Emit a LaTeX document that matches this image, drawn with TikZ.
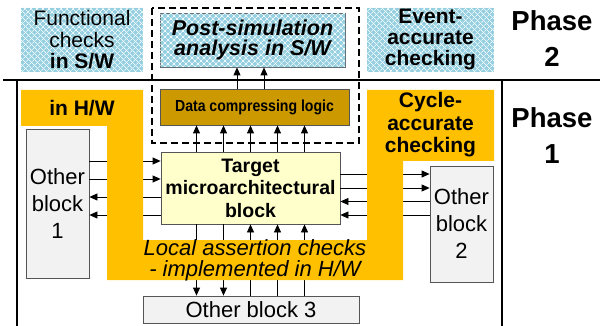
\documentclass[tikz,border=0pt]{standalone}
\usepackage{fontspec}
\setmainfont{Liberation Sans}
\usetikzlibrary{arrows.meta, positioning, calc, patterns.meta}

\definecolor{swblue}{RGB}{150,208,224}
\definecolor{hworange}{RGB}{255,192,0}
\definecolor{compgold}{RGB}{204,153,0}
\definecolor{tgtyellow}{RGB}{255,255,204}
\definecolor{blkgray}{RGB}{242,242,242}
\definecolor{edgegray}{RGB}{85,85,85}

\newcommand{\fsz}[2]{\fontsize{#1}{#2}\selectfont}

\tikzset{
  swbox/.style={fill=swblue, inner sep=0pt, align=center,
    postaction={pattern={Lines[angle=45,distance=4pt,line width=0.7pt]}, pattern color=white!85!swblue},
    postaction={pattern={Lines[angle=-45,distance=4pt,line width=0.7pt]}, pattern color=white!85!swblue}},
  blk/.style={draw=edgegray, line width=0.8pt, fill=blkgray, inner sep=0pt, align=center},
  link/.style={-{Triangle[length=8pt,width=7pt]}, line width=0.8pt},
  linkback/.style={{Triangle[length=8pt,width=7pt]}-, line width=0.8pt},
  hwtext/.style={align=center, inner sep=0pt, font=\fsz{21}{22.5}\bfseries},
  phase/.style={align=center, inner sep=0pt, font=\fsz{27.5}{36}\bfseries}
}

\begin{document}
\begin{tikzpicture}[x=1pt, y=-1pt]
\useasboundingbox (0,0) rectangle (600,326);

% Phase 2: checks done in software
\node[swbox, minimum width=122, minimum height=64, font=\fsz{21}{21.5}] (func) at (82,40)
  {Functional\\checks\\\textbf{in S/W}};
\node[swbox, draw=edgegray!80!swblue, line width=0.8pt, minimum width=185, minimum height=54,
  font=\fsz{21.5}{20}\bfseries\itshape] (post) at (252.5,40) {Post-simulation\\analysis in S/W};
\node[swbox, minimum width=127, minimum height=64, font=\fsz{21}{21}\bfseries] (event) at (430.5,40)
  {Event-\\accurate\\checking};

% phase labels
\node[phase] (ph2) at (552,38.5) {Phase\\2};
\node[phase] (ph1) at (552,135.5) {Phase\\1};

% separators
\draw[line width=2pt] (3,80) -- (600,80);
\draw[line width=1.3pt] (17,80) -- (17,326);
\draw[line width=1.3pt] (502,80) -- (502,326);

% logic that feeds the software analysis
\draw[dashed, dash pattern=on 7pt off 4pt, line width=1.2pt] (152,8) rectangle (359,143);
\node[blk, fill=compgold, minimum width=189, minimum height=36, font=\fsz{16}{18}\bfseries] (comp) at (254.5,107)
  {\scalebox{0.88}[1]{Data compressing logic}};

% the block under test and its neighbours
\node[blk, fill=tgtyellow, minimum width=179, minimum height=72, font=\fsz{19.5}{22.5}\bfseries] (tgt) at (250.5,188)
  {Target\\microarchitectural\\block};
\node[blk, minimum width=63, minimum height=149, font=\fsz{22}{27}] (ob1) at (57.5,203.5) {Other\\block\\1};
\node[blk, minimum width=63, minimum height=116, font=\fsz{22}{27}] (ob2) at (461.5,224) {Other\\block\\2};
\node[blk, minimum width=216, minimum height=27, font=\fsz{22}{24}] (ob3) at (251,309.5) {Other block 3};

% signals up to the compressor and on to the analysis
\foreach \dx in {-54,-27,0,27,54}
  \draw[link] ([xshift=\dx]tgt.north) coordinate (s) -- (s |- comp.south);
\path (tgt.north |- comp.north) coordinate (cn);
\foreach \dx in {-13.5,13.5}
  \draw[link] ([xshift=\dx]cn) coordinate (s) -- (s |- post.south);

% block 1
\foreach \dy in {27,9}
  \draw[linkback] ([yshift=\dy]tgt.west) coordinate (s) -- (s -| ob1.east);
\foreach \dy in {-9,-27}
  \draw[link] ([yshift=\dy]tgt.west) coordinate (s) -- (s -| ob1.east);

% block 2
\foreach \dy in {14,0}
  \draw[link] ([yshift=\dy]tgt.east) coordinate (s) -- (s -| ob2.west);
\foreach \dy in {-13.5,-27}
  \draw[linkback] ([yshift=\dy]tgt.east) coordinate (s) -- (s -| ob2.west);

% block 3
\foreach \dx in {-54,-27}
  \draw[link] ([xshift=\dx]tgt.south) coordinate (s) -- (s |- ob3.north);
\foreach \dx in {0,27,54}
  \draw[linkback] ([xshift=\dx]tgt.south) coordinate (s) -- (s |- ob3.north);

% hardware checkers wrapped round the target (on top of the wires)
\fill[hworange] (21,90) -| (143,240) -| (367,90) -| (494,161) -| (403,280) -| (107,126) -| (21,90) -- cycle;
\node[hwtext] (hwlbl) at (82,108) {in H/W};
\node[hwtext] (cyc) at (430.5,125) {Cycle-\\accurate\\checking};
\node[align=center, inner sep=0pt, font=\fsz{22}{21}\itshape] (assert) at (255,260)
  {Local assertion checks\\- implemented in H/W};

\end{tikzpicture}
\end{document}
